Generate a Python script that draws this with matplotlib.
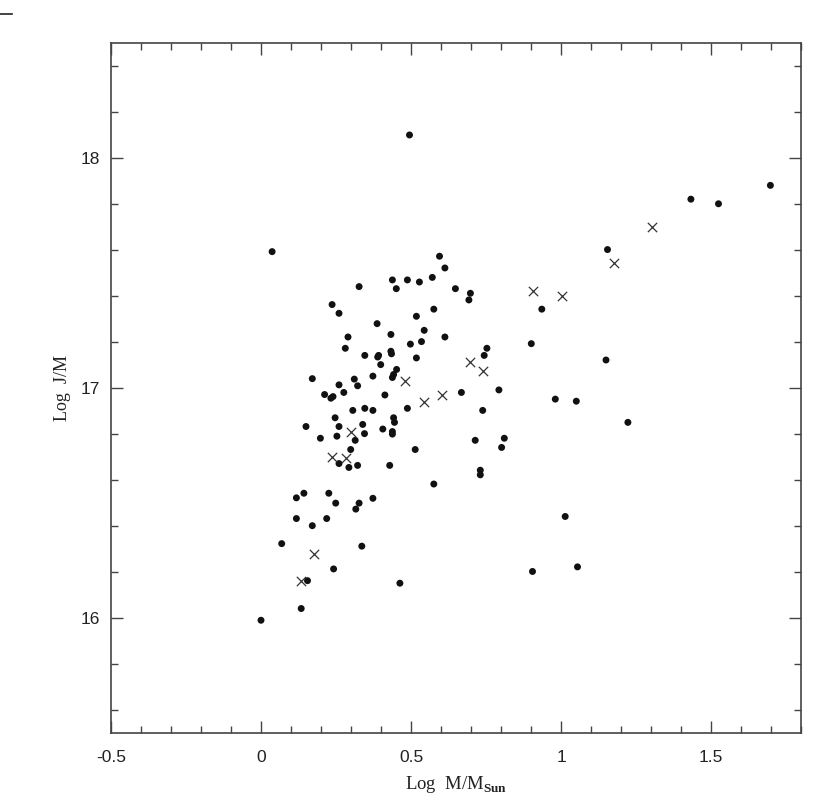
import matplotlib
matplotlib.use("Agg")
import matplotlib.pyplot as plt
from matplotlib.lines import Line2D
from matplotlib.ticker import MultipleLocator, FuncFormatter

# filled dots: log mass, log J/M
dot_logm = [0.000, 0.037, 0.069, 0.118, 0.118, 0.143, 0.150, 0.171, 0.171, 0.155,
            0.134, 0.198, 0.212, 0.219, 0.226, 0.233, 0.240, 0.237, 0.260, 0.242,
            0.249, 0.247, 0.253, 0.260, 0.260, 0.260, 0.276, 0.281, 0.290, 0.293,
            0.299, 0.306, 0.311, 0.314, 0.316, 0.322, 0.322, 0.327, 0.327, 0.336,
            0.339, 0.345, 0.346, 0.346, 0.373, 0.373, 0.373, 0.387, 0.389, 0.392,
            0.399, 0.406, 0.413, 0.429, 0.433, 0.433, 0.435, 0.438, 0.438, 0.442,
            0.438, 0.438, 0.442, 0.445, 0.451, 0.452, 0.463, 0.488, 0.488, 0.495,
            0.498, 0.514, 0.518, 0.518, 0.528, 0.535, 0.544, 0.571, 0.576, 0.576,
            0.595, 0.613, 0.613, 0.648, 0.668, 0.693, 0.698, 0.714, 0.731, 0.731,
            0.739, 0.744, 0.753, 0.793, 0.802, 0.811, 0.901, 0.905, 0.936, 0.981,
            1.014, 1.051, 1.055, 1.150, 1.155, 1.223, 1.433, 1.525, 1.698]
dot_logj = [15.990, 17.592, 16.323, 16.522, 16.432, 16.542, 16.832, 17.040, 16.401, 16.162,
            16.041, 16.781, 16.971, 16.432, 16.542, 16.955, 16.962, 17.362, 17.324, 16.213,
            16.499, 16.870, 16.790, 16.832, 17.013, 16.671, 16.980, 17.172, 17.221, 16.654,
            16.732, 16.902, 17.038, 16.772, 16.473, 16.663, 17.009, 17.440, 16.499, 16.312,
            16.841, 16.801, 17.141, 16.911, 16.902, 17.051, 16.520, 17.279, 17.134, 17.141,
            17.101, 16.821, 16.969, 16.663, 17.232, 17.159, 17.148, 17.469, 17.045, 17.058,
            16.810, 16.799, 16.870, 16.850, 17.431, 17.080, 16.151, 17.469, 16.911, 18.099,
            17.190, 16.732, 17.311, 17.130, 17.460, 17.201, 17.250, 17.480, 17.342, 16.582,
            17.572, 17.521, 17.221, 17.431, 16.980, 17.382, 17.411, 16.772, 16.642, 16.622,
            16.902, 17.141, 17.172, 16.991, 16.741, 16.781, 17.192, 16.202, 17.342, 16.951,
            16.441, 16.942, 16.222, 17.121, 17.601, 16.850, 17.820, 17.800, 17.880]

# crosses
cross_logm = [0.133, 0.178, 0.237, 0.284, 0.300, 0.479, 0.544, 0.604, 0.698, 0.740,
              0.905, 1.002, 1.178, 1.302]
cross_logj = [16.162, 16.280, 16.701, 16.694, 16.810, 17.031, 16.940, 16.969, 17.112, 17.072,
              17.420, 17.400, 17.541, 17.699]

plt.rcParams['mathtext.fontset'] = 'custom'
plt.rcParams['mathtext.rm'] = 'Liberation Serif'
plt.rcParams['mathtext.bf'] = 'Liberation Serif:bold'

fig = plt.figure(figsize=(8.31, 8.08), dpi=100)
ax = fig.add_axes([111 / 831, 1 - 733 / 808, 690 / 831, 690.3 / 808])

ax.scatter(dot_logm, dot_logj, s=25, c='#111111', edgecolors='none', zorder=3)
ax.scatter(cross_logm, cross_logj, s=45, marker='x', c='#333333', linewidths=0.9, zorder=3)

ax.set_xlim(-0.5, 1.8)
ax.set_ylim(15.5, 18.5)
ax.xaxis.set_major_locator(MultipleLocator(0.5))
ax.xaxis.set_minor_locator(MultipleLocator(0.1))
ax.yaxis.set_major_locator(MultipleLocator(1))
ax.yaxis.set_minor_locator(MultipleLocator(0.2))
ax.xaxis.set_major_formatter(FuncFormatter(lambda v, p: f"{v:g}"))
ax.yaxis.set_major_formatter(FuncFormatter(lambda v, p: f"{v:g}"))

# frame and ticks
axis_col = '#444444'
for sp in ax.spines.values():
    sp.set_color(axis_col)
    sp.set_linewidth(1.2)
ax.tick_params(which='both', direction='in', top=True, right=True, color=axis_col, width=1.0)
ax.tick_params(which='major', length=8.6)
ax.tick_params(which='minor', length=4.8)
ax.tick_params(axis='x', which='major', pad=12, labelsize=12.5, labelcolor='#222222')
ax.tick_params(axis='y', which='major', pad=8, labelsize=12.5, labelcolor='#222222')
for lab in ax.get_xticklabels() + ax.get_yticklabels():
    lab.set_fontfamily('Liberation Sans')

ax.set_xlabel(r"Log  M/M$_{\mathbf{Sun}}$", fontsize=13.5, family='Liberation Serif', color='#222222')
ax.set_ylabel("Log  J/M", fontsize=13, family='Liberation Serif', color='#222222')
ax.xaxis.set_label_coords(0.5, -0.059)
ax.yaxis.set_label_coords(-0.058, 0.5)

# small stray dash in the top-left corner
fig.add_artist(Line2D([0, 12 / 831], [1 - 14 / 808, 1 - 14 / 808], color='#222222', lw=1.2))

fig.savefig("out.png", dpi=100, facecolor='white')
